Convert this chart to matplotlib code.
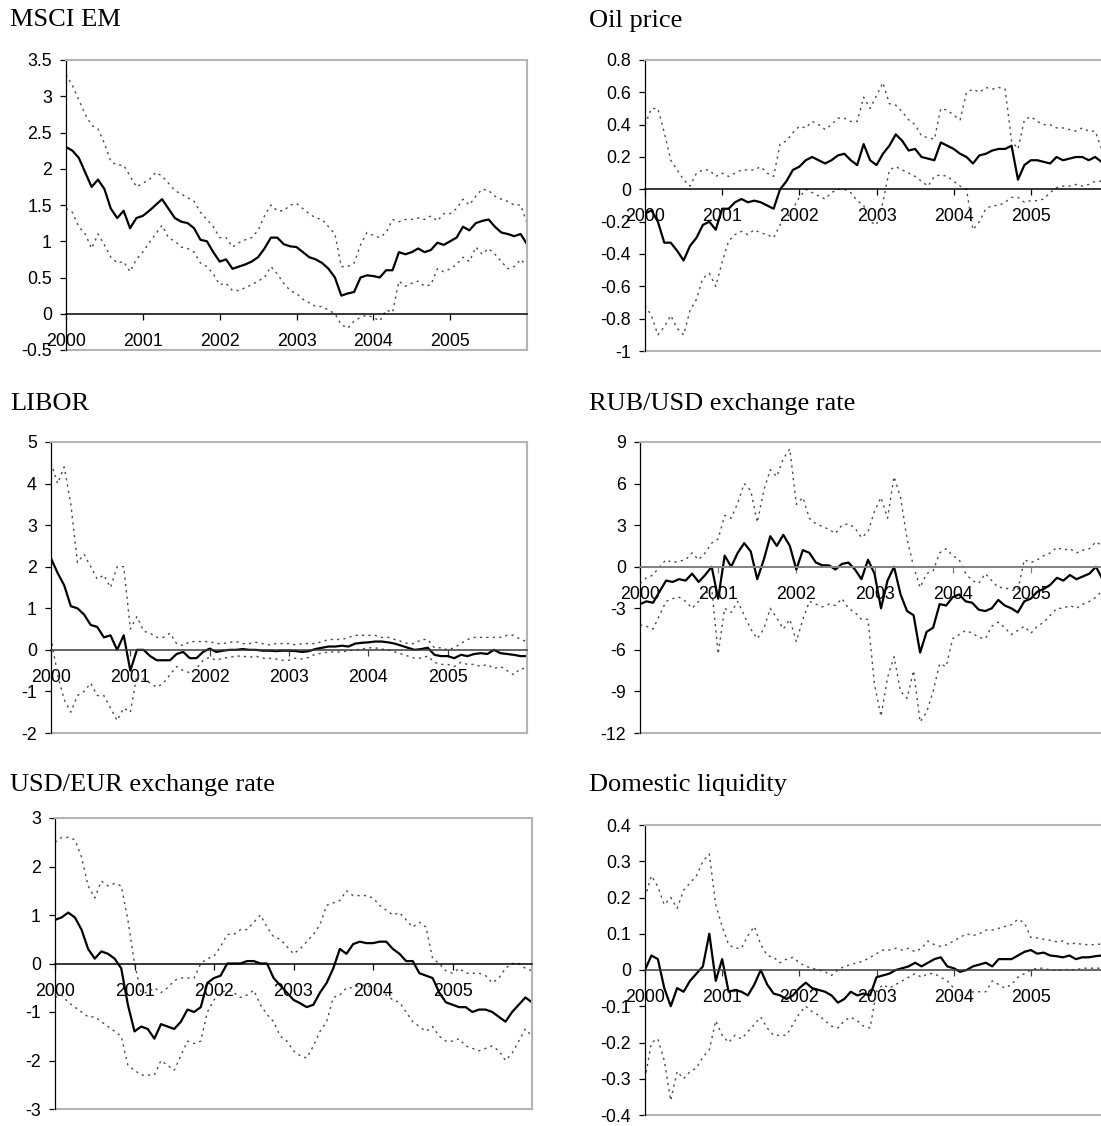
import numpy as np
import matplotlib
matplotlib.use("Agg")
import matplotlib.pyplot as plt
from matplotlib.lines import Line2D

# ---------------- data (monthly, Jan 2000 .. Jan 2006) ----------------
years = [2000, 2001, 2002, 2003, 2004, 2005]
year_labels = ["2000", "2001", "2002", "2003", "2004", "2005"]

titles = ["MSCI EM", "Oil price", "LIBOR", "RUB/USD exchange rate",
          "USD/EUR exchange rate", "Domestic liquidity"]

msci_mid = [2.3, 2.25, 2.15, 1.95, 1.75, 1.85, 1.72, 1.45, 1.32, 1.42, 1.18, 1.32,
            1.35, 1.42, 1.5, 1.58, 1.45, 1.32, 1.27, 1.25, 1.18, 1.02, 1.0, 0.85,
            0.72, 0.75, 0.62, 0.65, 0.68, 0.72, 0.78, 0.9, 1.05, 1.05, 0.96, 0.93,
            0.92, 0.85, 0.78, 0.75, 0.7, 0.62, 0.5, 0.25, 0.28, 0.3, 0.5, 0.53,
            0.52, 0.5, 0.6, 0.6, 0.85, 0.82, 0.85, 0.9, 0.85, 0.88, 0.98, 0.95,
            1.0, 1.05, 1.2, 1.15, 1.25, 1.28, 1.3, 1.2, 1.12, 1.1, 1.07, 1.1, 0.96]
msci_up = [3.3, 3.15, 2.95, 2.75, 2.6, 2.55, 2.35, 2.1, 2.05, 2.05, 1.9, 1.75,
           1.8, 1.85, 1.95, 1.9, 1.8, 1.7, 1.65, 1.6, 1.55, 1.4, 1.3, 1.2,
           1.05, 1.05, 0.92, 0.98, 1.02, 1.05, 1.15, 1.35, 1.5, 1.42, 1.42, 1.5,
           1.52, 1.45, 1.38, 1.32, 1.3, 1.2, 1.1, 0.65, 0.65, 0.7, 0.95, 1.12,
           1.08, 1.05, 1.12, 1.3, 1.27, 1.3, 1.3, 1.32, 1.3, 1.35, 1.28, 1.38,
           1.38, 1.45, 1.58, 1.5, 1.62, 1.72, 1.7, 1.62, 1.58, 1.55, 1.5, 1.5, 1.25]
msci_lo = [1.45, 1.4, 1.2, 1.1, 0.9, 1.1, 0.95, 0.78, 0.7, 0.72, 0.58, 0.75,
           0.85, 0.98, 1.1, 1.22, 1.05, 1.0, 0.92, 0.9, 0.85, 0.7, 0.65, 0.55,
           0.4, 0.42, 0.32, 0.32, 0.36, 0.4, 0.45, 0.5, 0.65, 0.55, 0.42, 0.32,
           0.28, 0.2, 0.15, 0.1, 0.1, 0.05, 0.0, -0.15, -0.2, -0.1, -0.05, -0.02,
           -0.05, -0.1, 0.05, 0.02, 0.45, 0.38, 0.42, 0.45, 0.38, 0.4, 0.62, 0.58,
           0.62, 0.68, 0.78, 0.72, 0.92, 0.82, 0.9, 0.82, 0.72, 0.62, 0.65, 0.75, 0.66]

oil_mid = [-0.15, -0.13, -0.2, -0.33, -0.33, -0.38, -0.44, -0.35, -0.3, -0.22, -0.2, -0.25,
           -0.12, -0.12, -0.08, -0.06, -0.08, -0.07, -0.08, -0.1, -0.12, 0.0, 0.05, 0.12,
           0.14, 0.18, 0.2, 0.18, 0.16, 0.18, 0.21, 0.22, 0.18, 0.15, 0.28, 0.18,
           0.15, 0.22, 0.27, 0.34, 0.3, 0.24, 0.25, 0.2, 0.19, 0.18, 0.29, 0.27,
           0.25, 0.22, 0.2, 0.16, 0.21, 0.22, 0.24, 0.25, 0.25, 0.27, 0.06, 0.15,
           0.18, 0.18, 0.17, 0.16, 0.2, 0.18, 0.19, 0.2, 0.2, 0.18, 0.2, 0.17, 0.18]
oil_up = [0.4, 0.5, 0.5, 0.35, 0.18, 0.12, 0.06, 0.02, 0.1, 0.12, 0.12, 0.08,
          0.1, 0.08, 0.1, 0.12, 0.12, 0.12, 0.14, 0.1, 0.08, 0.28, 0.3, 0.35,
          0.39, 0.38, 0.42, 0.4, 0.37, 0.4, 0.44, 0.44, 0.42, 0.42, 0.57, 0.5,
          0.58, 0.66, 0.53, 0.52, 0.48, 0.43, 0.4, 0.33, 0.32, 0.31, 0.5, 0.49,
          0.46, 0.43, 0.6, 0.62, 0.6, 0.63, 0.62, 0.63, 0.62, 0.3, 0.25, 0.43,
          0.45, 0.42, 0.4, 0.4, 0.38, 0.38, 0.37, 0.36, 0.38, 0.36, 0.36, 0.25, 0.3]
oil_lo = [-0.72, -0.78, -0.9, -0.85, -0.78, -0.86, -0.9, -0.75, -0.68, -0.55, -0.52, -0.6,
          -0.45, -0.32, -0.28, -0.26, -0.28, -0.25, -0.27, -0.28, -0.3, -0.22, -0.18, -0.12,
          -0.05, 0.0, -0.02, -0.04, -0.06, -0.02, 0.0, 0.0, -0.02, -0.07, -0.1, -0.2,
          -0.22, -0.08, 0.12, 0.14, 0.12, 0.1, 0.08, 0.05, 0.02, 0.08, 0.09, 0.08,
          0.05, 0.02, 0.0, -0.25, -0.2, -0.12, -0.1, -0.1, -0.08, -0.05, -0.05, -0.08,
          -0.07, -0.07, -0.06, -0.02, 0.01, 0.02, 0.02, 0.03, 0.02, 0.03, 0.05, 0.05, 0.06]

libor_mid = [2.2, 1.85, 1.55, 1.05, 1.0, 0.85, 0.6, 0.55, 0.3, 0.35, 0.0, 0.35,
             -0.5, 0.0, 0.0, -0.15, -0.25, -0.25, -0.25, -0.1, -0.05, -0.2, -0.2, -0.05,
             0.03, -0.05, -0.02, 0.0, 0.0, 0.02, 0.0, 0.0, -0.02, -0.02, -0.03, -0.02,
             -0.02, -0.03, -0.05, -0.03, 0.02, 0.05, 0.08, 0.08, 0.1, 0.08, 0.15, 0.17,
             0.18, 0.2, 0.2, 0.18, 0.15, 0.1, 0.05, 0.0, 0.02, 0.05, -0.12, -0.15,
             -0.15, -0.2, -0.12, -0.15, -0.1, -0.08, -0.1, 0.0, -0.08, -0.1, -0.12, -0.15, -0.15]
libor_up = [4.5, 4.0, 4.4, 3.5, 2.1, 2.3, 2.0, 1.7, 1.8, 1.5, 2.0, 2.0,
            0.5, 0.8, 0.45, 0.4, 0.3, 0.3, 0.4, 0.15, 0.1, 0.2, 0.2, 0.2,
            0.2, 0.15, 0.15, 0.18, 0.2, 0.15, 0.15, 0.18, 0.15, 0.12, 0.15, 0.15,
            0.15, 0.12, 0.15, 0.15, 0.15, 0.2, 0.25, 0.25, 0.25, 0.3, 0.35, 0.35,
            0.35, 0.35, 0.3, 0.3, 0.25, 0.2, 0.15, 0.15, 0.25, 0.25, 0.05, 0.05,
            0.0, 0.05, 0.15, 0.25, 0.3, 0.3, 0.3, 0.3, 0.3, 0.35, 0.35, 0.25, 0.2]
libor_lo = [0.3, -0.6, -1.2, -1.5, -1.1, -1.0, -0.8, -1.1, -1.1, -1.4, -1.7, -1.4,
            -1.5, -0.6, -0.7, -0.8, -0.9, -0.8, -0.6, -0.4, -0.5, -0.55, -0.45, -0.25,
            -0.18, -0.25, -0.2, -0.18, -0.15, -0.15, -0.18, -0.15, -0.2, -0.2, -0.22, -0.25,
            -0.25, -0.2, -0.22, -0.18, -0.1, -0.08, -0.05, -0.05, -0.05, -0.02, 0.0, 0.02,
            0.05, 0.05, 0.02, 0.0, -0.05, -0.1, -0.15, -0.2, -0.2, -0.15, -0.3, -0.35,
            -0.35, -0.4, -0.3, -0.35, -0.35, -0.4, -0.35, -0.45, -0.4, -0.5, -0.6, -0.45, -0.45]

rub_mid = [-2.7, -2.5, -2.6, -1.8, -1.0, -1.1, -0.9, -1.0, -0.5, -1.1, -0.6, 0.0,
           -2.3, 0.8, 0.0, 1.0, 1.7, 1.1, -0.9, 0.5, 2.2, 1.5, 2.3, 1.5,
           -0.2, 1.2, 1.0, 0.3, 0.1, 0.1, -0.2, 0.2, 0.3, -0.2, -0.9, 0.5,
           -0.5, -3.0, -1.0, 0.0, -2.0, -3.2, -3.5, -6.2, -4.7, -4.4, -2.7, -2.8,
           -2.2, -2.0, -2.5, -2.6, -3.1, -3.2, -3.0, -2.4, -2.8, -3.0, -3.3, -2.5,
           -2.3, -1.8, -1.6, -1.3, -0.8, -1.0, -0.6, -0.9, -0.7, -0.5, 0.0, -0.9, -0.9]
rub_up = [-1.2, -0.8, -0.6, 0.0, 0.5, 0.3, 0.4, 0.5, 1.0, 0.5, 1.0, 1.7,
          2.0, 3.7, 3.5, 4.6, 6.0, 5.5, 3.2, 5.5, 7.0, 6.5, 7.8, 8.5,
          4.5, 5.0, 3.5, 3.1, 2.9, 2.7, 2.4, 3.0, 3.1, 2.8, 2.1, 2.5,
          4.0, 5.0, 3.5, 6.5, 5.0, 2.0, 0.0, -1.5, -0.5, -0.3, 1.0, 1.3,
          0.8, 0.5, -0.5, -1.0, -1.2, -0.5, -1.0, -1.5, -1.5, -1.7, -1.7, 0.5,
          0.3, 0.5, 0.8, 1.0, 1.4, 1.2, 1.3, 1.0, 1.2, 1.3, 1.8, 1.5, 1.5]
rub_lo = [-4.2, -4.3, -4.5, -3.5, -2.5, -2.3, -2.2, -2.5, -3.0, -2.5, -2.0, -1.5,
          -6.3, -3.0, -3.3, -2.5, -3.5, -4.5, -5.2, -4.5, -3.0, -3.7, -4.5, -3.8,
          -5.4, -3.8, -2.5, -2.7, -2.9, -2.7, -2.8, -2.3, -3.0, -3.3, -3.8, -3.8,
          -8.5, -10.8, -8.0, -6.5, -9.0, -9.5, -7.5, -11.2, -10.5, -9.0, -7.0, -7.2,
          -5.2, -4.9, -4.6, -4.8, -5.1, -5.2, -4.3, -4.0, -4.4, -4.9, -4.6, -4.3,
          -4.8, -4.3, -4.0, -3.5, -3.0, -3.0, -2.8, -3.0, -2.7, -2.5, -2.2, -1.7, -1.8]

eur_mid = [0.9, 0.95, 1.05, 0.95, 0.7, 0.3, 0.1, 0.25, 0.2, 0.1, -0.1, -0.85,
           -1.4, -1.3, -1.35, -1.55, -1.25, -1.3, -1.35, -1.2, -0.95, -1.0, -0.9, -0.4,
           -0.3, -0.25, 0.0, 0.0, 0.0, 0.05, 0.05, 0.0, 0.0, -0.3, -0.45, -0.6,
           -0.75, -0.82, -0.9, -0.85, -0.6, -0.4, -0.1, 0.3, 0.2, 0.4, 0.45, 0.42,
           0.42, 0.45, 0.45, 0.3, 0.2, 0.05, 0.05, -0.2, -0.25, -0.3, -0.6, -0.8,
           -0.85, -0.9, -0.9, -1.0, -0.95, -0.95, -1.0, -1.1, -1.2, -1.0, -0.85, -0.7, -0.8]
eur_up = [2.5, 2.6, 2.6, 2.55, 2.2, 1.6, 1.35, 1.7, 1.6, 1.65, 1.6, 0.9,
          0.0, -0.6, -0.6, -0.5, -0.6, -0.5, -0.35, -0.3, -0.3, -0.3, 0.0, 0.1,
          0.15, 0.35, 0.6, 0.6, 0.7, 0.7, 0.85, 1.0, 0.75, 0.55, 0.5, 0.35,
          0.2, 0.3, 0.45, 0.6, 0.8, 1.2, 1.25, 1.3, 1.5, 1.4, 1.4, 1.4,
          1.35, 1.2, 1.1, 1.0, 1.05, 0.9, 0.75, 0.85, 0.75, 0.1, 0.0, -0.15,
          -0.2, -0.1, -0.2, -0.2, -0.2, -0.25, -0.4, -0.3, -0.1, 0.0, 0.0, -0.1, -0.15]
eur_lo = [-0.7, -0.65, -0.8, -0.9, -1.0, -1.1, -1.1, -1.2, -1.3, -1.4, -1.5, -2.1,
          -2.2, -2.3, -2.3, -2.3, -2.0, -2.1, -2.2, -1.9, -1.6, -1.65, -1.6, -1.0,
          -0.75, -0.6, -0.55, -0.6, -0.7, -0.65, -0.55, -0.85, -1.05, -1.2, -1.5, -1.6,
          -1.8, -1.9, -1.95, -1.7, -1.4, -1.2, -0.7, -0.65, -0.5, -0.5, -0.45, -0.45,
          -0.5, -0.55, -0.65, -0.75, -0.8, -1.0, -1.2, -1.3, -1.4, -1.3, -1.5, -1.6,
          -1.6, -1.55, -1.7, -1.75, -1.8, -1.75, -1.7, -1.8, -2.0, -1.85, -1.6, -1.35, -1.5]

liq_mid = [0.0, 0.04, 0.03, -0.05, -0.1, -0.05, -0.06, -0.03, -0.01, 0.01, 0.1, -0.03,
           0.03, -0.06, -0.055, -0.06, -0.07, -0.04, 0.0, -0.04, -0.065, -0.07, -0.08, -0.07,
           -0.05, -0.035, -0.05, -0.055, -0.06, -0.07, -0.09, -0.08, -0.06, -0.07, -0.065, -0.07,
           -0.02, -0.015, -0.01, 0.0, 0.005, 0.01, 0.02, 0.01, 0.02, 0.03, 0.035, 0.01,
           0.005, -0.005, 0.0, 0.01, 0.015, 0.02, 0.01, 0.03, 0.03, 0.03, 0.04, 0.05,
           0.055, 0.045, 0.048, 0.04, 0.038, 0.035, 0.04, 0.03, 0.035, 0.035, 0.038, 0.04, 0.04]
liq_up = [0.2, 0.26, 0.23, 0.18, 0.2, 0.17, 0.22, 0.24, 0.26, 0.3, 0.32, 0.18,
          0.12, 0.07, 0.06, 0.06, 0.095, 0.12, 0.07, 0.04, 0.035, 0.02, 0.03, 0.035,
          0.02, 0.01, 0.005, 0.0, -0.005, -0.015, 0.0, 0.01, 0.015, 0.02, 0.025, 0.035,
          0.045, 0.055, 0.055, 0.06, 0.055, 0.06, 0.05, 0.06, 0.08, 0.07, 0.065, 0.07,
          0.08, 0.09, 0.1, 0.095, 0.1, 0.11, 0.11, 0.115, 0.12, 0.125, 0.14, 0.13,
          0.09, 0.088, 0.085, 0.082, 0.078, 0.08, 0.07, 0.075, 0.07, 0.07, 0.07, 0.072, 0.07]
liq_lo = [-0.3, -0.2, -0.19, -0.25, -0.36, -0.28, -0.3, -0.28, -0.27, -0.24, -0.22, -0.14,
          -0.18, -0.2, -0.18, -0.19, -0.17, -0.15, -0.13, -0.16, -0.18, -0.18, -0.18, -0.15,
          -0.12, -0.1, -0.115, -0.125, -0.14, -0.155, -0.16, -0.14, -0.13, -0.14, -0.155, -0.16,
          -0.06, -0.04, -0.05, -0.04, -0.03, -0.02, -0.01, -0.02, -0.01, -0.01, -0.02, -0.03,
          -0.05, -0.07, -0.07, -0.06, -0.06, -0.06, -0.03, -0.04, -0.05, -0.04, -0.02, -0.01,
          0.0, 0.005, 0.005, 0.0, 0.0, 0.0, 0.002, 0.0, 0.005, 0.005, 0.005, 0.005, 0.005]

# y tick values / labels per panel
yt_msci = [-0.5, 0, 0.5, 1, 1.5, 2, 2.5, 3, 3.5]
yl_msci = ["-0.5", "0", "0.5", "1", "1.5", "2", "2.5", "3", "3.5"]
yt_oil = [-1, -0.8, -0.6, -0.4, -0.2, 0, 0.2, 0.4, 0.6, 0.8]
yl_oil = ["-1", "-0.8", "-0.6", "-0.4", "-0.2", "0", "0.2", "0.4", "0.6", "0.8"]
yt_libor = [-2, -1, 0, 1, 2, 3, 4, 5]
yl_libor = ["-2", "-1", "0", "1", "2", "3", "4", "5"]
yt_rub = [-12, -9, -6, -3, 0, 3, 6, 9]
yl_rub = ["-12", "-9", "-6", "-3", "0", "3", "6", "9"]
yt_eur = [-3, -2, -1, 0, 1, 2, 3]
yl_eur = ["-3", "-2", "-1", "0", "1", "2", "3"]
yt_liq = [-0.4, -0.3, -0.2, -0.1, 0, 0.1, 0.2, 0.3, 0.4]
yl_liq = ["-0.4", "-0.3", "-0.2", "-0.1", "0", "0.1", "0.2", "0.3", "0.4"]

# ---------------- figure ----------------
W, H = 1101, 1126
fig = plt.figure(figsize=(W / 100, H / 100), dpi=100)
fig.patch.set_facecolor("white")

# axes boxes in pixels: left, right, top, bottom
boxes = [(66, 527, 60, 350), (645, 1108, 60, 351),
         (51, 527, 442, 733), (640, 1109, 442, 733),
         (55, 532, 818, 1109), (645, 1108, 825, 1115)]
title_pos = [(10.5, 26.5), (589, 26.5), (10.5, 410), (589, 410), (10.5, 791), (589, 791)]
zero_colors = ["black", "black", "#3a3a3a", "#808080", "black", "#3a3a3a"]

panels = [
    (msci_mid, msci_up, msci_lo, yt_msci, yl_msci),
    (oil_mid, oil_up, oil_lo, yt_oil, yl_oil),
    (libor_mid, libor_up, libor_lo, yt_libor, yl_libor),
    (rub_mid, rub_up, rub_lo, yt_rub, yl_rub),
    (eur_mid, eur_up, eur_lo, yt_eur, yl_eur),
    (liq_mid, liq_up, liq_lo, yt_liq, yl_liq),
]

sans = ["Liberation Sans", "DejaVu Sans"]
serif = ["Liberation Serif", "DejaVu Serif"]
gray = "#b4b4b4"

for i, (mid, up, lo, yt, yl) in enumerate(panels):
    l, r, t, b = boxes[i]
    ax = fig.add_axes([l / W, 1 - b / H, (r - l) / W, (b - t) / H])
    n = len(mid)
    x = 2000 + np.arange(n) / 12.0
    ax.plot(x, up, color="#4a4a4a", lw=1.0, ls=(0, (1.6, 3.0)))
    ax.plot(x, lo, color="#4a4a4a", lw=1.0, ls=(0, (1.6, 3.0)))
    ax.plot(x, mid, color="black", lw=1.6, solid_joinstyle="round")
    ax.set_xlim(2000, 2006)
    ax.set_ylim(yt[0], yt[-1])

    # spines
    ax.spines["bottom"].set_position(("data", 0))
    ax.spines["bottom"].set_color(zero_colors[i])
    ax.spines["bottom"].set_linewidth(1.1 if zero_colors[i] != "#808080" else 1.4)
    ax.spines["left"].set_color("black")
    ax.spines["left"].set_linewidth(0.9)
    for s in ("top", "right"):
        ax.spines[s].set_color(gray)
        ax.spines[s].set_linewidth(1.5)
    ax.add_line(Line2D([0, 1], [0, 0], transform=ax.transAxes, color=gray,
                       lw=1.5, clip_on=False, zorder=2.4))

    ax.set_xticks(years)
    ax.set_xticklabels(year_labels, fontfamily=sans, fontsize=12.8)
    ax.set_yticks(yt)
    ax.set_yticklabels(yl, fontfamily=sans, fontsize=12.8)
    ax.tick_params(axis="x", direction="out", length=4.3, width=0.9,
                   color=zero_colors[i], pad=9.4)
    ax.tick_params(axis="y", direction="out", length=4.1, width=0.9,
                   color="black", pad=6.0)
    ax.set_facecolor("none")

    tx, ty = title_pos[i]
    fig.text(tx / W, 1 - ty / H, titles[i], fontfamily=serif, fontsize=19,
             ha="left", va="baseline")

fig.savefig("out.png", dpi=100, facecolor="white")
